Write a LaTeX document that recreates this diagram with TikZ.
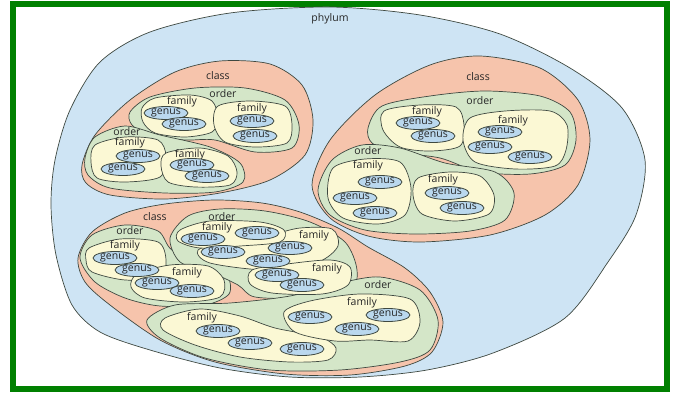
\documentclass[tikz,border=0pt]{standalone}
\usepackage{fontspec}
\setsansfont{Open Sans}
\usetikzlibrary{shapes.geometric}
\definecolor{phylumblue}{RGB}{206,228,244}
\definecolor{classpink}{RGB}{246,196,172}
\definecolor{ordergreen}{RGB}{212,230,200}
\definecolor{familyyellow}{RGB}{251,248,212}
\definecolor{genusblue}{RGB}{186,216,238}
\definecolor{edgegray}{RGB}{62,72,64}
\definecolor{framegreen}{RGB}{0,128,0}

\begin{document}
\begin{tikzpicture}[x=1pt,y=-1pt,
  blob/.style={draw=edgegray,line width=0.7pt},
  tag/.style={font=\sffamily\fontsize{10.5}{10.5}\selectfont,text=black!85,inner sep=0pt},
  genus/.style={ellipse,draw=edgegray,line width=0.8pt,fill=genusblue,inner sep=0pt,
    minimum width=44pt,minimum height=13pt,text height=5.5pt,text depth=2pt,
    font=\sffamily\fontsize{10.5}{10.5}\selectfont,text=black!85}]
\useasboundingbox (0,0) rectangle (676,394);
\fill[white] (0,0) rectangle (676,394);
\draw[framegreen,line width=6pt] (13,4) rectangle (667,388.5);

\filldraw[blob,fill=phylumblue] plot[smooth cycle] coordinates {(330,7) (420,15) (500,34) (570,68) (622,108) (645,160) (636,215) (608,262) (565,318) (493,353) (427,370) (360,377) (290,377) (220,368) (150,350) (100,332) (72,305) (56,255) (51,205) (55,160) (70,110) (100,62) (150,32) (230,13)};

% classes
\filldraw[blob,fill=classpink] plot[smooth cycle] coordinates {(82,165) (95,135) (130,100) (175,72) (220,61) (270,64) (302,85) (313,120) (305,155) (270,180) (220,193) (165,199) (110,195) (86,183)};
\filldraw[blob,fill=classpink] plot[smooth cycle] coordinates {(312,185) (330,140) (375,95) (430,65) (480,56) (540,68) (578,100) (590,140) (578,185) (545,215) (490,235) (420,242) (368,236) (330,218)};
\filldraw[blob,fill=classpink] plot[smooth cycle] coordinates {(78,258) (92,232) (125,213) (165,204) (215,200) (262,203) (300,212) (338,228) (368,247) (405,268) (430,292) (443,322) (432,352) (405,366) (350,375) (285,374) (215,362) (160,340) (110,305) (85,282)};

% orders
\filldraw[blob,fill=ordergreen] plot[smooth cycle] coordinates {(130,112) (150,97) (195,88) (245,88) (285,100) (299,125) (292,148) (255,152) (215,140) (185,140) (150,136) (132,125)};
\filldraw[blob,fill=ordergreen] plot[smooth cycle] coordinates {(85,158) (95,137) (125,126) (160,135) (210,147) (240,163) (243,182) (215,192) (165,193) (110,188) (88,175)};
\filldraw[blob,fill=ordergreen] plot[smooth cycle] coordinates {(368,128) (382,106) (430,96) (485,91) (540,96) (570,112) (576,140) (565,165) (530,174) (480,172) (440,158) (395,152) (372,143)};
\filldraw[blob,fill=ordergreen] plot[smooth cycle] coordinates {(318,190) (332,160) (362,145) (400,148) (445,163) (495,172) (514,193) (505,220) (470,231) (415,234) (365,230) (330,215)};
\filldraw[blob,fill=ordergreen] plot[smooth cycle] coordinates {(80,258) (92,235) (125,225) (158,231) (172,250) (205,262) (227,275) (229,294) (205,305) (160,306) (125,298) (95,282)};
\filldraw[blob,fill=ordergreen] plot[smooth cycle] coordinates {(170,238) (188,216) (220,209) (265,211) (310,222) (345,242) (357,270) (350,292) (305,298) (255,297) (238,285) (210,272) (180,262)};
\filldraw[blob,fill=ordergreen] plot[smooth cycle] coordinates {(147,320) (175,305) (230,303) (290,296) (340,283) (380,277) (420,290) (438,320) (430,350) (400,362) (340,370) (270,370) (205,358) (160,338)};

% families
\filldraw[blob,fill=familyyellow] plot[smooth cycle] coordinates {(142,108) (155,98) (190,95) (212,101) (218,118) (212,132) (185,137) (155,133) (143,122)};
\filldraw[blob,fill=familyyellow] plot[smooth cycle] coordinates {(218,106) (250,101) (285,106) (292,125) (287,143) (255,147) (225,142) (214,125)};
\filldraw[blob,fill=familyyellow] plot[smooth cycle] coordinates {(95,145) (125,137) (158,140) (166,156) (160,177) (125,182) (97,178) (91,162)};
\filldraw[blob,fill=familyyellow] plot[smooth cycle] coordinates {(166,153) (200,148) (228,156) (237,172) (230,185) (195,187) (168,182) (161,166)};
\filldraw[blob,fill=familyyellow] plot[smooth cycle] coordinates {(384,111) (420,105) (456,107) (464,125) (460,146) (430,151) (400,147) (383,130)};
\filldraw[blob,fill=familyyellow] plot[smooth cycle] coordinates {(470,118) (505,111) (550,111) (567,125) (566,150) (555,166) (515,169) (475,162) (463,140)};
\filldraw[blob,fill=familyyellow] plot[smooth cycle] coordinates {(333,168) (365,159) (400,162) (411,188) (405,215) (378,224) (343,218) (328,198)};
\filldraw[blob,fill=familyyellow] plot[smooth cycle] coordinates {(418,178) (450,172) (480,176) (494,195) (489,214) (455,221) (422,214) (413,195)};
\filldraw[blob,fill=familyyellow] plot[smooth cycle] coordinates {(89,248) (120,239) (158,242) (166,260) (160,277) (125,280) (92,272) (86,260)};
\filldraw[blob,fill=familyyellow] plot[smooth cycle] coordinates {(137,274) (170,265) (208,266) (224,280) (220,297) (185,302) (145,298) (131,287)};
\filldraw[blob,fill=familyyellow] plot[smooth cycle] coordinates {(198,250) (230,241) (270,235) (300,228) (332,229) (338,246) (318,262) (268,270) (210,263)};
\filldraw[blob,fill=familyyellow] plot[smooth cycle] coordinates {(180,230) (210,221) (260,222) (284,230) (280,242) (240,246) (200,248) (178,241)};
\filldraw[blob,fill=familyyellow] plot[smooth cycle] coordinates {(252,270) (287,264) (330,260) (350,267) (348,285) (322,294) (272,293) (250,284)};
\filldraw[blob,fill=familyyellow] plot[smooth cycle] coordinates {(165,318) (200,309) (240,316) (275,328) (320,337) (336,348) (328,360) (290,362) (240,357) (195,345) (163,330)};
\filldraw[blob,fill=familyyellow] plot[smooth cycle] coordinates {(284,312) (310,301) (360,294) (410,299) (420,322) (408,341) (370,340) (335,341) (295,332)};

% labels
\node[tag] (phylum) at (330,19) {phylum};
\foreach \nm/\x/\y in {c1/218/76, c2/478/77, c3/155/217}
{       \node[tag] (\nm) at (\x,\y) {class};
}
\foreach \nm/\x/\y in {o1a/223/94, o1b/127/132, o2a/480/101, o2b/368/151, o3a/130/231, o3b/222/217, o3c/378/285}
{       \node[tag] (\nm) at (\x,\y) {order};
}
\foreach \nm/\x/\y in {f1a1/182/102, f1a2/252/109, f1b1/130/143, f1b2/190/155, f2a1/427/112, f2a2/513/121, f2b1/368/166, f2b2/443/180, f3a1/125/246, f3a2/187/273, f3b1/217/228, f3b2/314/236, f3b3/327/269, f3c1/202/318, f3c2/362/303}
{       \node[tag] (\nm) at (\x,\y) {family};
}
\foreach \x/\y [count=\k] in {166/113, 184/124, 252/121, 255/136, 138/156, 123/169, 192/165, 207/176,
  418/123, 433/136, 500/132, 490/147, 530/157, 380/182, 355/198, 375/213, 447/193, 462/208,
  115/258, 137/270, 157/283, 192/291, 203/239, 257/233, 223/252, 290/248, 268/261, 277/275, 302/285,
  218/331, 250/343, 302/349, 310/317, 388/315, 357/329}
{       \node[genus] (g\k) at (\x,\y) {genus};
}
\end{tikzpicture}
\end{document}
